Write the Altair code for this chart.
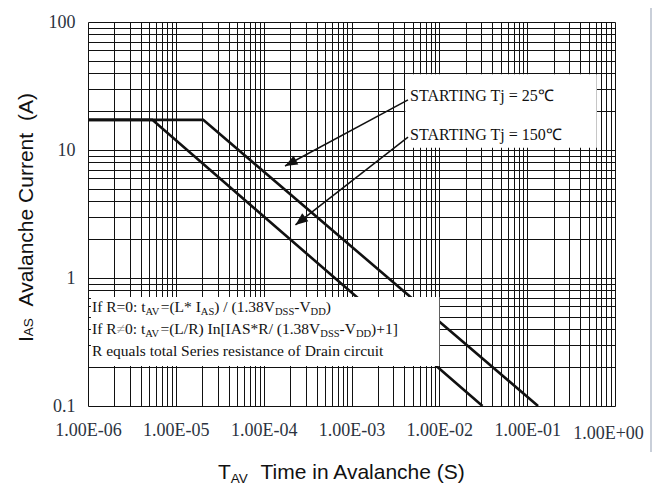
import json
import math
import altair as alt
import pandas as pd

# ---- data -------------------------------------------------------------
# Avalanche current capability (A) versus time in avalanche (s)
T25_TIME = [1e-6, 2.05e-5, 0.133]
T25_CURRENT = [17.2, 17.2, 0.1]
T150_TIME = [1e-6, 5.4e-6, 0.031]
T150_CURRENT = [17.2, 17.2, 0.1]

X_TICK_LABELS = ["1.00E-06", "1.00E-05", "1.00E-04", "1.00E-03",
                 "1.00E-02", "1.00E-01", "1.00E+00"]
Y_TICK_LABELS = ["0.1", "1", "10", "100"]

# callout arrows: from the label text to the curve (data coordinates)
ARROW_FROM_X = [4.4e-3, 4.4e-3]
ARROW_FROM_Y = [24.6, 12.6]
ARROW_TO_X = [1.75e-4, 2.3e-4]
ARROW_TO_Y = [7.5, 2.6]

# white label panels (data coordinates)
BOX_X = [4.1e-3, 1.08e-6]
BOX_X2 = [0.62, 1e-2]
BOX_Y = [10.4, 0.205]
BOX_Y2 = [39.0, 0.71]

# text runs: (text, style) with style n = normal, s = subscript, g = grey
CURVE_LABELS = [
    [("STARTING Tj = 25\u2103", "n")],
    [("STARTING Tj = 150\u2103", "n")],
]
NOTE_LINES = [
    [("If R=0: t", "n"), ("AV", "s"), ("=(L* I", "n"), ("AS", "s"),
     (") / (1.38V", "n"), ("DSS", "s"), ("-V", "n"), ("DD", "s"), (")", "n")],
    [("If R", "n"), ("\u2260", "g"), ("0: t", "n"), ("AV", "s"),
     ("=(L/R) In[IAS*R/ (1.38V", "n"), ("DSS", "s"), ("-V", "n"), ("DD", "s"),
     (")+1]", "n")],
    [("R equals total Series resistance of Drain circuit", "n")],
]
X_TITLE = [("T", "n"), ("AV", "s"), ("  Time in Avalanche (S)", "n")]
Y_TITLE = [("I", "n"), ("AS", "m"), ("  Avalanche Current  (A)", "n")]

# ---- geometry ---------------------------------------------------------
W, H = 527, 384
LEFT, TOP = 88, 22
X_LO, X_HI = -6, 0   # decades on x
Y_LO, Y_HI = -1, 2   # decades on y


def x_at(px):
    return 10 ** (X_LO + px / W * (X_HI - X_LO))


def y_at(py):
    return 10 ** (Y_HI - py / H * (Y_HI - Y_LO))


def px_of(x):
    return (math.log10(x) - X_LO) / (X_HI - X_LO) * W


def py_of(y):
    return (Y_HI - math.log10(y)) / (Y_HI - Y_LO) * H


# glyph advance widths (1/1000 em)
SERIF = {" ": 250, "!": 333, "(": 333, ")": 333, "*": 500, "+": 564, "-": 333,
         ".": 250, "/": 278, ":": 278, "=": 564, "[": 333, "]": 333,
         "\u2260": 549, "\u2103": 900,
         "A": 722, "B": 667, "C": 667, "D": 722, "E": 611, "F": 556, "G": 722,
         "H": 722, "I": 333, "J": 389, "K": 722, "L": 611, "M": 889, "N": 722,
         "O": 722, "P": 556, "Q": 722, "R": 667, "S": 556, "T": 611, "U": 722,
         "V": 722, "W": 944, "X": 722, "Y": 722, "Z": 611,
         "a": 444, "b": 500, "c": 444, "d": 500, "e": 444, "f": 333, "g": 500,
         "h": 500, "i": 278, "j": 278, "k": 500, "l": 278, "m": 778, "n": 500,
         "o": 500, "p": 500, "q": 500, "r": 333, "s": 389, "t": 278, "u": 500,
         "v": 500, "w": 722, "x": 500, "y": 500, "z": 444}
SANS = {" ": 278, "(": 333, ")": 333, "A": 667, "C": 722, "I": 278, "S": 667,
        "T": 611, "V": 667, "a": 556, "c": 500, "e": 556, "h": 556, "i": 222,
        "l": 222, "m": 833, "n": 556, "r": 333, "t": 278, "u": 556, "v": 500}


def width(text, size, table):
    return sum(table.get(ch, 500) for ch in text) * size / 1000.0


def runs(segments, size, sub_size, table, sub_shift):
    """Pieces to draw: (advance along the line, cross offset, text, size, style)."""
    out, pos = [], 0.0
    for text, style in segments:
        fs = sub_size if style in ("s", "m") else size
        shift = sub_shift if style == "s" else 0.0
        words = text.split("  ")
        for i, word in enumerate(words):
            if i:
                pos += width("  ", fs, table)
            lead = len(word) - len(word.lstrip(" "))
            trail = len(word) - len(word.rstrip(" "))
            pos += width(" " * lead, fs, table)
            core = word.strip(" ")
            if core:
                out.append((pos, shift, core, fs, style))
            pos += width(core, fs, table) + width(" " * trail, fs, table)
    return out


def horizontal(segments, x0, y0, size, sub_size, table, sub_shift, ink="#111111"):
    rows = []
    for dx, dy, word, fs, style in runs(segments, size, sub_size, table, sub_shift):
        rows.append({"x": x_at(x0 + dx), "y": y_at(y0 + dy), "text": word,
                     "size": fs, "color": "#a0a0a0" if style == "g" else ink})
    return rows


def vertical(segments, x0, y0, size, sub_size, table, ink="#111111"):
    rows = []
    for dx, _, word, fs, _ in runs(segments, size, sub_size, table, 0.0):
        rows.append({"x": x_at(x0), "y": y_at(y0 - dx), "text": word,
                     "size": fs, "color": ink})
    return rows


# ---- scales and axes --------------------------------------------------
x_scale = alt.Scale(type="log", domain=[1e-6, 1.0], nice=False)
y_scale = alt.Scale(type="log", domain=[0.1, 100.0], nice=False)

x_grid = [m * 10.0 ** k for k in range(-6, 0) for m in range(1, 10)] + [1.0]
y_grid = [m * 10.0 ** k for k in range(-1, 2) for m in range(1, 10)] + [100.0]

decade = "round(log(datum.value) / LN10)"
is_decade = f"abs(log(datum.value) / LN10 - {decade}) < 1e-6"
x_label_expr = f"{is_decade} ? {json.dumps(X_TICK_LABELS)}[{decade} + 6] : ''"
y_label_expr = f"{is_decade} ? {json.dumps(Y_TICK_LABELS)}[{decade} + 1] : ''"

common_axis = dict(grid=True, gridColor="#111111", gridOpacity=1, gridWidth=1,
                   ticks=False, tickSize=0, domain=False, title=None,
                   labelFont="Liberation Serif",
                   labelColor="#2c3340", labelOverlap=False)
x_axis = alt.Axis(
    values=x_grid, labelExpr=x_label_expr, labelFlush=False, labelFontSize=18,
    labelPadding={"condition": {"test": "datum.value >= 1", "value": 18}, "value": 15},
    labelOffset={"condition": {"test": "datum.value >= 1", "value": -7}, "value": 0},
    **common_axis,
)
y_axis = alt.Axis(values=y_grid, labelExpr=y_label_expr, labelPadding=13,
                  labelFontSize=18, **common_axis)


def X(field):
    return alt.X(field, type="quantitative", scale=x_scale, axis=x_axis)


def Y(field):
    return alt.Y(field, type="quantitative", scale=y_scale, axis=y_axis)


# ---- layers -----------------------------------------------------------
curves = pd.DataFrame(
    [{"series": "25", "t": t, "ias": i} for t, i in zip(T25_TIME, T25_CURRENT)]
    + [{"series": "150", "t": t, "ias": i} for t, i in zip(T150_TIME, T150_CURRENT)]
)
lines = alt.Chart(curves).mark_line(color="#111111", strokeWidth=2.6).encode(
    x=X("t"), y=Y("ias"), detail="series:N"
)

boxes = alt.Chart(pd.DataFrame({"x": BOX_X, "x2": BOX_X2, "y": BOX_Y, "y2": BOX_Y2})).mark_rect(
    color="white", opacity=1
).encode(x=X("x"), x2="x2", y=Y("y"), y2="y2")

arrow_df = pd.DataFrame({"x": ARROW_FROM_X, "y": ARROW_FROM_Y,
                         "x2": ARROW_TO_X, "y2": ARROW_TO_Y})
arrow_df["angle"] = [
    math.degrees(math.atan2(px_of(b) - px_of(a), -(py_of(d) - py_of(c)))) % 360
    for a, b, c, d in zip(ARROW_FROM_X, ARROW_TO_X, ARROW_FROM_Y, ARROW_TO_Y)
]
shafts = alt.Chart(arrow_df).mark_rule(color="#111111", strokeWidth=1.5).encode(
    x=X("x"), x2="x2", y=Y("y"), y2="y2"
)
heads = alt.Chart(arrow_df).mark_point(
    shape="M0,0L0.4,1L-0.4,1Z", filled=True, color="#111111", opacity=1, size=620
).encode(x=X("x2"), y=Y("y2"), angle=alt.Angle("angle:Q", scale=None))

serif_rows = []
serif_rows += horizontal(CURVE_LABELS[0], 322, 79, 16, 11, SERIF, 3.5)
serif_rows += horizontal(CURVE_LABELS[1], 322, 118, 16, 11, SERIF, 3.5)
for k, line in enumerate(NOTE_LINES):
    serif_rows += horizontal(line, 4, 290 + 22 * k, 15.5, 10.5, SERIF, 3)
serif_text = alt.Chart(pd.DataFrame(serif_rows)).mark_text(
    align="left", baseline="alphabetic", font="Liberation Serif"
).encode(x=X("x"), y=Y("y"), text="text:N",
         size=alt.Size("size:Q", scale=None), color=alt.Color("color:N", scale=None))

x_title = alt.Chart(pd.DataFrame(horizontal(X_TITLE, 130, 457, 21, 13.5, SANS, 3.5))).mark_text(
    align="left", baseline="alphabetic", font="Liberation Sans"
).encode(x=X("x"), y=Y("y"), text="text:N",
         size=alt.Size("size:Q", scale=None), color=alt.Color("color:N", scale=None))

y_title = alt.Chart(pd.DataFrame(vertical(Y_TITLE, -55, 320, 21, 13.5, SANS))).mark_text(
    align="left", baseline="alphabetic", font="Liberation Sans", angle=270
).encode(x=X("x"), y=Y("y"), text="text:N",
         size=alt.Size("size:Q", scale=None), color=alt.Color("color:N", scale=None))

# page edge line running down the right-hand side
edge = alt.Chart(pd.DataFrame({"k": [0]})).mark_rule(color="#b7bfcc", strokeWidth=1.5).encode(
    x=alt.value(563), y=alt.value(-14), y2=alt.value(430)
)

chart = alt.layer(lines, boxes, shafts, heads, serif_text, x_title, y_title, edge).properties(
    width=W, height=H,
    padding={"left": LEFT, "top": TOP, "right": 665 - LEFT - W, "bottom": 486 - TOP - H},
    autosize=alt.AutoSizeParams(type="none"),
    background="white",
).configure_view(strokeWidth=0)

chart.save("out.html", embed_options={"renderer": "svg", "actions": False})
